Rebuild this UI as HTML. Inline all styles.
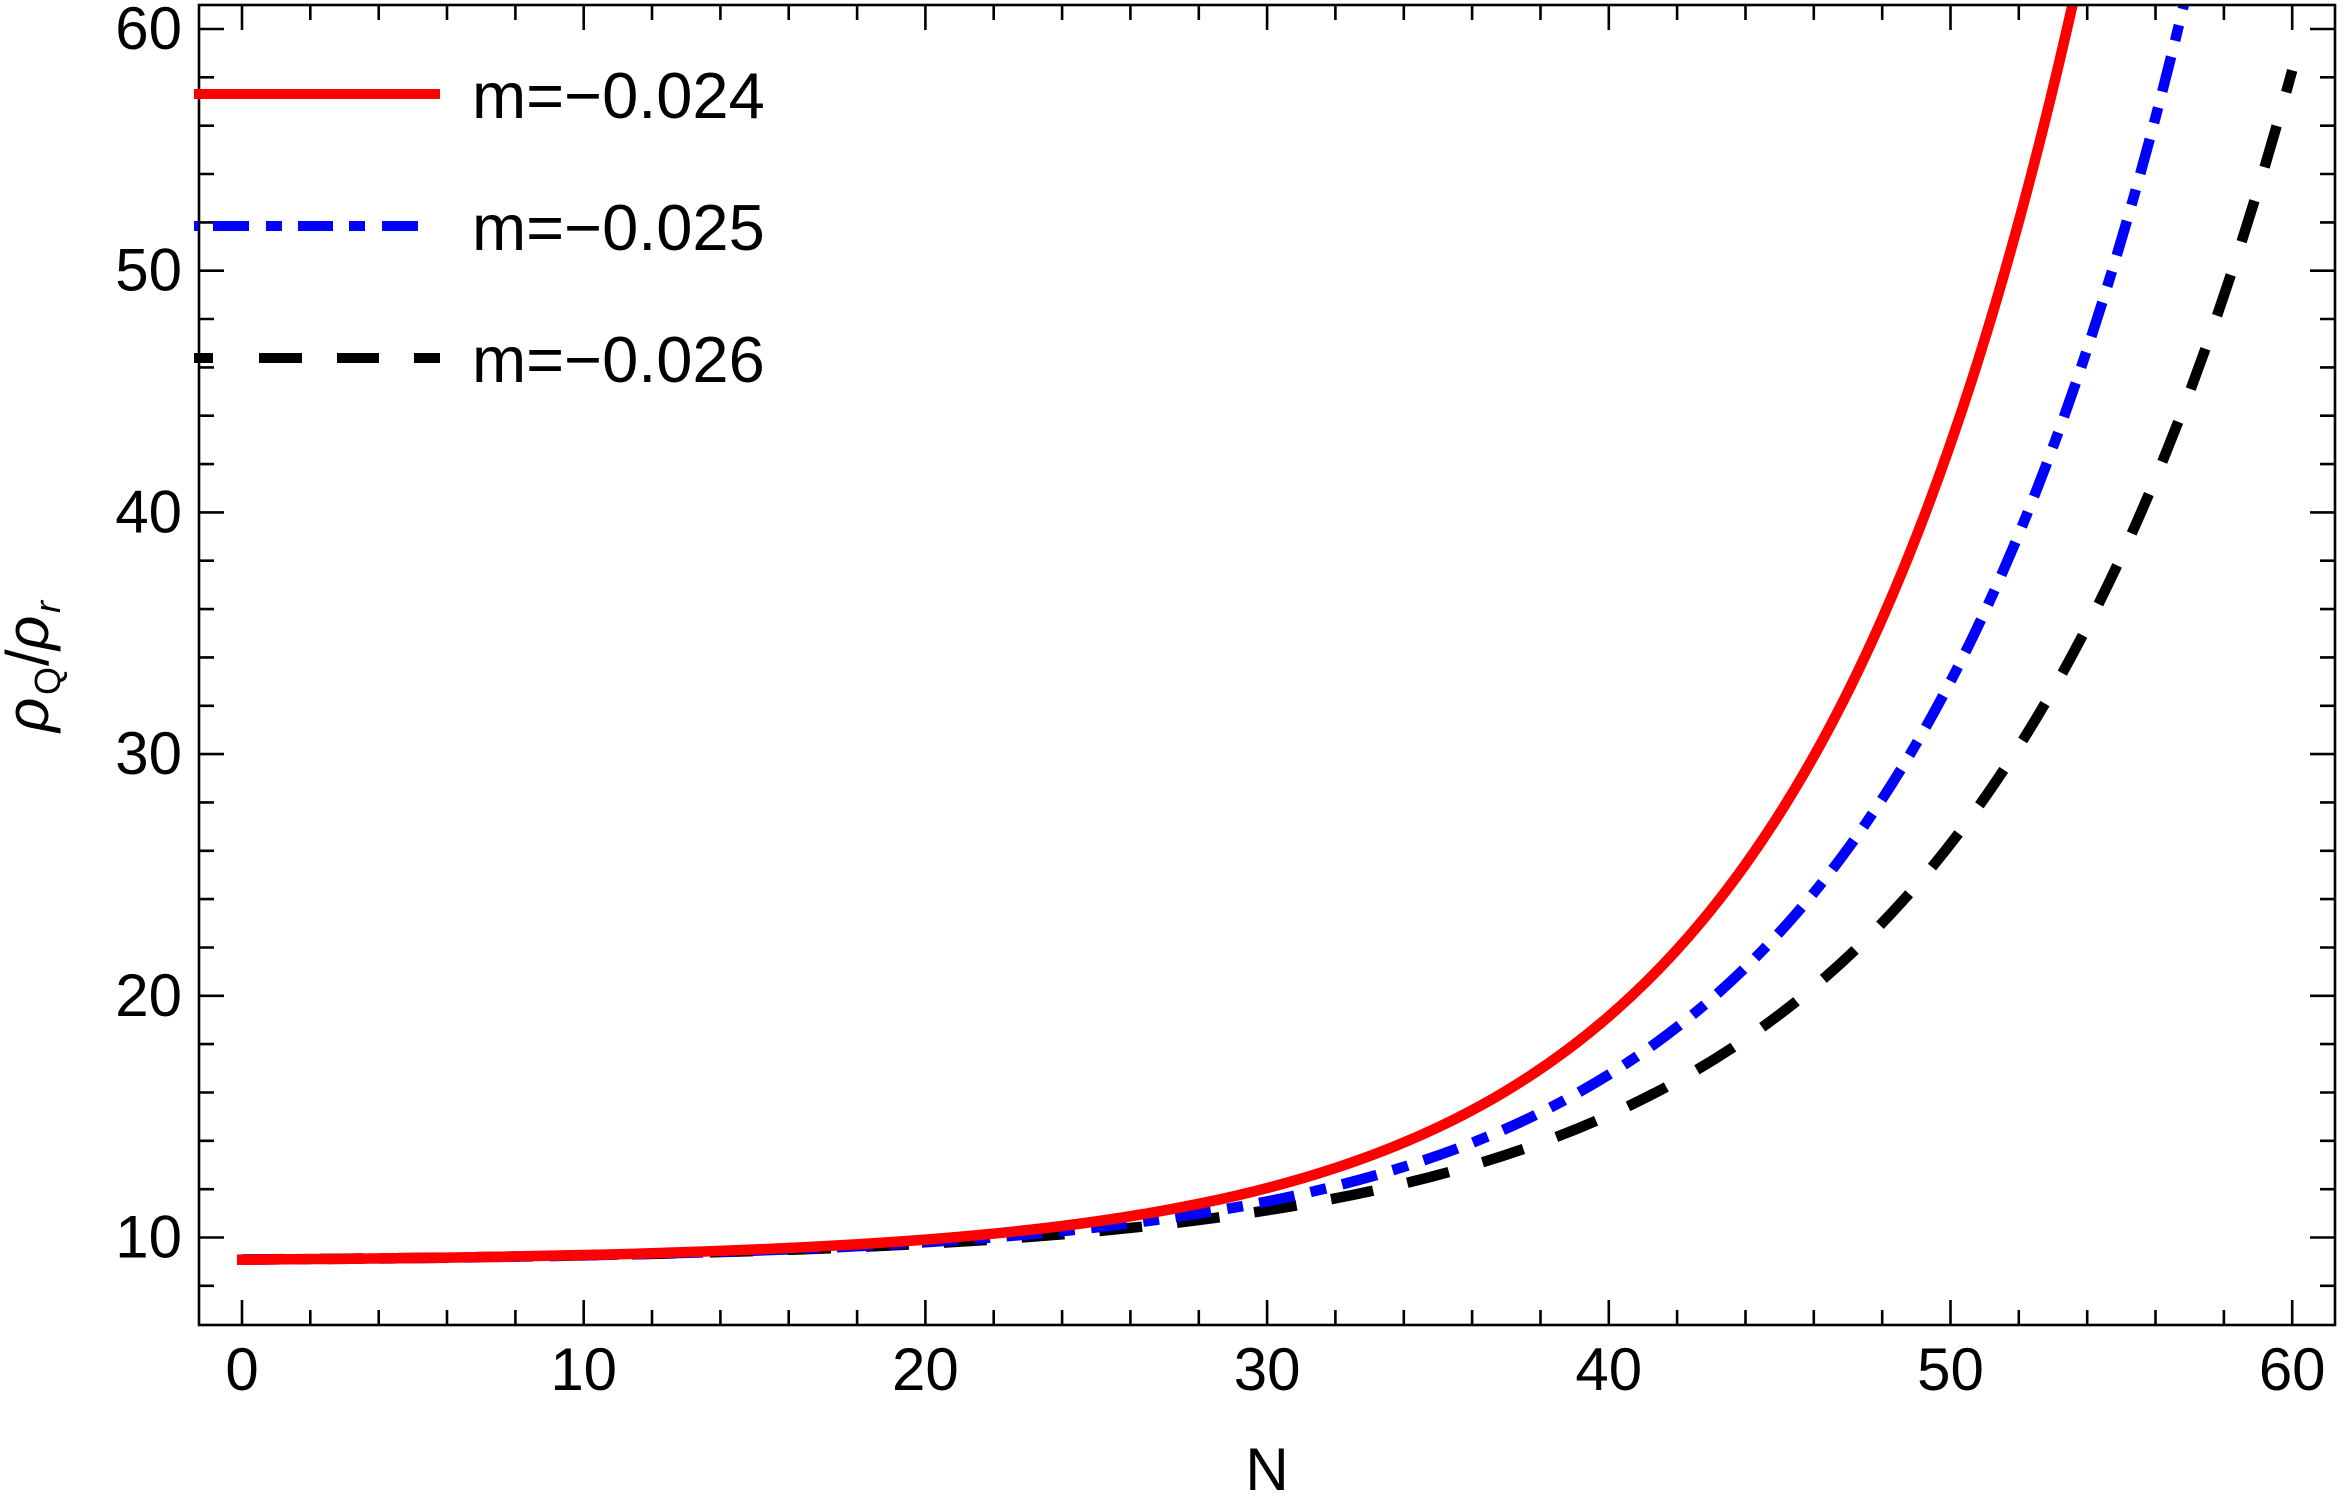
<!DOCTYPE html>
<html>
<head>
<meta charset="utf-8">
<style>
  html, body { margin:0; padding:0; background:#fff; }
  svg { display:block; }
  text { font-family: "Liberation Sans", Arial, sans-serif; fill:#000; }
</style>
</head>
<body>
<svg width="2350" height="1500" viewBox="0 0 2350 1500" xmlns="http://www.w3.org/2000/svg">
  <defs>
    <clipPath id="plot">
      <rect x="199" y="5" width="2136" height="1320"/>
    </clipPath>
  </defs>
  <rect x="0" y="0" width="2350" height="1500" fill="#fff"/>

  <!-- curves -->
  <g clip-path="url(#plot)" fill="none" stroke-width="10.5">
    <!-- black dashed m=-0.026 -->
    <path stroke="#000" stroke-dasharray="43 35" stroke-linecap="butt"
      d="M242,1259.46 C355.9,1258.69 469.8,1257.57 583.7,1255.36
         C697.6,1253.15 811.5,1249.95 925.4,1243.66
         C1016.52,1238.63 1107.64,1231.66 1198.76,1220.02
         C1267.1,1211.29 1335.44,1199.94 1403.78,1183.57
         C1472.12,1167.2 1540.46,1145.9 1608.8,1115.2
         C1654.36,1094.73 1699.92,1070.06 1745.48,1038.94
         C1791.04,1007.82 1836.6,970.28 1882.16,922.95
         C1927.72,875.62 1973.28,818.55 2018.84,746.54
         C2064.4,674.55 2109.96,587.78 2155.52,478.31
         C2201.08,368.84 2246.64,236.84 2292.2,70.37"/>
    <!-- blue dash-dot m=-0.025 -->
    <path stroke="#0000ff" stroke-dasharray="36 16.5 16 16.5" stroke-linecap="butt"
      d="M242,1259.65 C355.9,1258.89 469.8,1257.77 583.7,1255.4
         C697.6,1253.04 811.5,1249.57 925.4,1242.23
         C1016.52,1236.36 1107.64,1228.11 1198.76,1213.59
         C1267.1,1202.7 1335.44,1188.3 1403.78,1166.83
         C1472.12,1145.36 1540.46,1116.96 1608.8,1074.62
         C1654.36,1046.4 1699.92,1011.88 1745.48,967.49
         C1791.04,923.1 1836.6,868.81 1882.16,799.0
         C1916.33,746.63 1950.5,685.47 1984.67,611.92
         C2018.84,538.37 2053.01,452.47 2087.18,349.17
         C2121.35,245.87 2155.52,125.24 2189.69,-19.83"/>
    <!-- red solid m=-0.024 -->
    <path stroke="#ff0000" stroke-linecap="butt"
      d="M237,1259.7 L242,1259.68 C355.9,1258.88 469.8,1257.71 583.7,1255.05
         C697.6,1252.39 811.5,1248.45 925.4,1239.59
         C1016.5,1232.5 1107.64,1222.4 1198.76,1203.83
         C1267.1,1189.9 1335.44,1171.21 1403.78,1142.52
         C1472.12,1113.83 1540.46,1075.43 1608.8,1016.37
         C1654.36,977.0 1699.92,928.23 1745.48,864.47
         C1791.04,800.71 1836.6,721.97 1882.16,618.77
         C1916.33,541.37 1950.5,450.41 1984.67,339.37
         C2018.84,228.33 2053.01,97.5 2087.18,-61.9"/>
  </g>

  <!-- frame -->
  <rect x="199" y="5" width="2136" height="1320" fill="none" stroke="#000" stroke-width="2.6"/>

  <!-- ticks -->
  <g stroke="#000" stroke-width="2.6" fill="none">
    <!-- x major bottom/top -->
    <path d="M242,1325 v-25 M583.7,1325 v-25 M925.4,1325 v-25 M1267.1,1325 v-25 M1608.8,1325 v-25 M1950.5,1325 v-25 M2292.2,1325 v-25"/>
    <path d="M242,5 v25 M583.7,5 v25 M925.4,5 v25 M1267.1,5 v25 M1608.8,5 v25 M1950.5,5 v25 M2292.2,5 v25"/>
    <!-- x minor bottom -->
    <path d="M310.3,1325 v-15 M378.7,1325 v-15 M447.0,1325 v-15 M515.4,1325 v-15
             M652.0,1325 v-15 M720.4,1325 v-15 M788.7,1325 v-15 M857.1,1325 v-15
             M993.7,1325 v-15 M1062.1,1325 v-15 M1130.4,1325 v-15 M1198.8,1325 v-15
             M1335.4,1325 v-15 M1403.8,1325 v-15 M1472.1,1325 v-15 M1540.5,1325 v-15
             M1677.1,1325 v-15 M1745.5,1325 v-15 M1813.8,1325 v-15 M1882.2,1325 v-15
             M2018.8,1325 v-15 M2087.2,1325 v-15 M2155.5,1325 v-15 M2223.9,1325 v-15"/>
    <!-- x minor top -->
    <path d="M310.3,5 v15 M378.7,5 v15 M447.0,5 v15 M515.4,5 v15
             M652.0,5 v15 M720.4,5 v15 M788.7,5 v15 M857.1,5 v15
             M993.7,5 v15 M1062.1,5 v15 M1130.4,5 v15 M1198.8,5 v15
             M1335.4,5 v15 M1403.8,5 v15 M1472.1,5 v15 M1540.5,5 v15
             M1677.1,5 v15 M1745.5,5 v15 M1813.8,5 v15 M1882.2,5 v15
             M2018.8,5 v15 M2087.2,5 v15 M2155.5,5 v15 M2223.9,5 v15"/>
    <!-- y major left/right: 10..60 -->
    <path d="M199,1237.5 h25 M199,995.8 h25 M199,754.1 h25 M199,512.4 h25 M199,270.7 h25 M199,29 h25"/>
    <path d="M2335,1237.5 h-25 M2335,995.8 h-25 M2335,754.1 h-25 M2335,512.4 h-25 M2335,270.7 h-25 M2335,29 h-25"/>
    <!-- y minor left -->
    <path d="M199,1285.8 h15
             M199,1189.2 h15 M199,1140.8 h15 M199,1092.5 h15 M199,1044.1 h15
             M199,947.5 h15 M199,899.1 h15 M199,850.8 h15 M199,802.4 h15
             M199,705.8 h15 M199,657.4 h15 M199,609.1 h15 M199,560.7 h15
             M199,464.1 h15 M199,415.7 h15 M199,367.4 h15 M199,319.0 h15
             M199,222.4 h15 M199,174.0 h15 M199,125.7 h15 M199,77.3 h15"/>
    <!-- y minor right -->
    <path d="M2335,1285.8 h-15
             M2335,1189.2 h-15 M2335,1140.8 h-15 M2335,1092.5 h-15 M2335,1044.1 h-15
             M2335,947.5 h-15 M2335,899.1 h-15 M2335,850.8 h-15 M2335,802.4 h-15
             M2335,705.8 h-15 M2335,657.4 h-15 M2335,609.1 h-15 M2335,560.7 h-15
             M2335,464.1 h-15 M2335,415.7 h-15 M2335,367.4 h-15 M2335,319.0 h-15
             M2335,222.4 h-15 M2335,174.0 h-15 M2335,125.7 h-15 M2335,77.3 h-15"/>
  </g>

  <!-- y tick labels -->
  <g font-size="60" text-anchor="end">
    <text x="182" y="1257.5">10</text>
    <text x="182" y="1015.8">20</text>
    <text x="182" y="774.1">30</text>
    <text x="182" y="532.4">40</text>
    <text x="182" y="290.7">50</text>
    <text x="182" y="49">60</text>
  </g>

  <!-- x tick labels -->
  <g font-size="60" text-anchor="middle">
    <text x="242" y="1390">0</text>
    <text x="583.7" y="1390">10</text>
    <text x="925.4" y="1390">20</text>
    <text x="1267.1" y="1390">30</text>
    <text x="1608.8" y="1390">40</text>
    <text x="1950.5" y="1390">50</text>
    <text x="2292.2" y="1390">60</text>
  </g>

  <!-- axis labels -->
  <text x="1267" y="1490" font-size="60" text-anchor="middle">N</text>
  <g transform="translate(48,732) rotate(-90)">
    <text x="0" y="0" font-size="60" font-style="italic">ρ</text>
    <text x="37" y="12" font-size="36">Q</text>
    <text x="66" y="0" font-size="60">/</text>
    <text x="82" y="0" font-size="60" font-style="italic">ρ</text>
    <text x="119" y="12" font-size="36" font-style="italic">r</text>
  </g>

  <!-- legend -->
  <g stroke-width="10" fill="none">
    <path stroke="#ff0000" d="M194,94 H440"/>
    <path stroke="#0000ff" d="M194,226 H198.5 M213,226 H249 M266,226 H282 M298,226 H333 M349,226 H365 M382,226 H418"/>
    <path stroke="#000" d="M194,358 H213 M259,358 H302 M337,358 H379 M414,358 H440"/>
  </g>
  <g font-size="65">
    <text x="472" y="118">m=−0.024</text>
    <text x="472" y="250">m=−0.025</text>
    <text x="472" y="382">m=−0.026</text>
  </g>
</svg>
</body>
</html>
